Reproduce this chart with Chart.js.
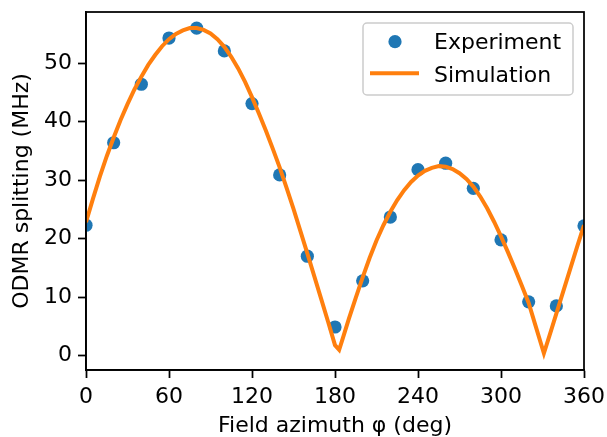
<!DOCTYPE html>
<html>
<head>
<meta charset="utf-8">
<script src="https://cdn.jsdelivr.net/npm/chart.js@4.4.1/dist/chart.umd.min.js"></script>
<style>
  html, body { margin: 0; padding: 0; background: #fff; }
  #wrap { width: 607px; height: 437px; }
</style>
</head>
<body>
<div id="wrap"><canvas id="chart" width="607" height="437"></canvas></div>
<script>
// Measured points, every 20 deg
const expAngles = [0, 20, 40, 60, 80, 100, 120, 140, 160, 180, 200, 220, 240, 260, 280, 300, 320, 340, 360];
const expSplitting = [22.3, 36.4, 46.4, 54.3, 56.0, 52.1, 43.1, 30.9, 17.0, 4.9, 12.8, 23.7, 31.8, 32.9, 28.6, 19.8, 9.2, 8.5, 22.2];

// Simulated curve
const simAngles = [0, 5, 10, 15, 20, 25, 30, 35, 40, 45, 50, 55, 60, 65, 70, 75, 80, 85, 90, 95,
  100, 105, 110, 115, 120, 125, 130, 135, 140, 145, 150, 155, 160, 165, 170, 175, 180, 183, 185, 190,
  195, 200, 205, 210, 215, 220, 225, 230, 235, 240, 245, 250, 255, 260, 265, 270, 275, 280, 285, 290,
  295, 300, 305, 310, 315, 320, 325, 331, 335, 340, 345, 350, 355, 360];
const simSplitting = [22.8, 26.8, 30.6, 34.1, 37.3, 40.3, 43.0, 45.5, 47.7, 49.7, 51.4, 52.9, 54.1, 55.0, 55.6, 56.0, 56.0, 55.7, 55.1, 54.1,
  52.8, 51.1, 49.1, 46.8, 44.2, 41.4, 38.5, 35.4, 32.2, 28.7, 25.1, 21.3, 17.5, 13.6, 9.7, 5.8, 1.8, 1.0, 2.5, 6.3,
  9.9, 13.4, 16.7, 19.7, 22.3, 24.6, 26.6, 28.3, 29.7, 30.8, 31.6, 32.1, 32.4, 32.3, 31.9, 31.2, 30.2, 28.9, 27.2, 25.2,
  22.9, 20.4, 17.7, 14.9, 12.0, 9.0, 5.1, 0.4, 3.4, 7.2, 11.0, 14.8, 18.6, 22.3];

const xTicks = [0, 60, 120, 180, 240, 300, 360];
const yTicks = [0, 10, 20, 30, 40, 50];

const blue = "#1f77b4";
const orange = "#ff7f0e";
const fontSize = 22;

Chart.defaults.font.family = "'DejaVu Sans', sans-serif";
Chart.defaults.font.size = fontSize;
Chart.defaults.color = "#000";

// matplotlib-style box round the axes, and the legend inside it
const frameAndLegend = {
  id: "frameAndLegend",
  afterDraw(chart) {
    const { ctx, chartArea: a } = chart;
    ctx.save();
    ctx.strokeStyle = "#000";
    ctx.lineWidth = 1.75;
    ctx.strokeRect(a.left, a.top, a.right - a.left, a.bottom - a.top);

    const w = 210, h = 72;
    const x0 = a.right - 11 - w, y0 = a.top + 11, r = 4;
    ctx.beginPath();
    ctx.moveTo(x0 + r, y0);
    ctx.arcTo(x0 + w, y0, x0 + w, y0 + h, r);
    ctx.arcTo(x0 + w, y0 + h, x0, y0 + h, r);
    ctx.arcTo(x0, y0 + h, x0, y0, r);
    ctx.arcTo(x0, y0, x0 + w, y0, r);
    ctx.closePath();
    ctx.fillStyle = "rgba(255,255,255,0.8)";
    ctx.fill();
    ctx.strokeStyle = "#cccccc";
    ctx.lineWidth = 1.5;
    ctx.stroke();

    ctx.fillStyle = blue;
    ctx.beginPath();
    ctx.arc(x0 + 32, y0 + 18.7, 6.6, 0, Math.PI * 2);
    ctx.fill();

    ctx.strokeStyle = orange;
    ctx.lineWidth = 4;
    ctx.beginPath();
    ctx.moveTo(x0 + 7, y0 + 50.3);
    ctx.lineTo(x0 + 56, y0 + 50.3);
    ctx.stroke();

    ctx.fillStyle = "#000";
    ctx.font = fontSize + "px 'DejaVu Sans', sans-serif";
    ctx.textBaseline = "alphabetic";
    ctx.textAlign = "left";
    ctx.fillText("Experiment", x0 + 71, y0 + 26.3);
    ctx.fillText("Simulation", x0 + 71, y0 + 58.7);
    ctx.restore();
  },
};

const axisGrid = {
  drawOnChartArea: false,
  drawTicks: true,
  tickLength: 8,
  tickWidth: 1.75,
  tickColor: "#000",
};

new Chart(document.getElementById("chart"), {
  type: "scatter",
  data: {
    datasets: [
      {
        label: "Simulation",
        data: simAngles.map((x, i) => ({ x, y: simSplitting[i] })),
        showLine: true,
        borderColor: orange,
        borderWidth: 4,
        pointRadius: 0,
        tension: 0,
        order: 0,
      },
      {
        label: "Experiment",
        data: expAngles.map((x, i) => ({ x, y: expSplitting[i] })),
        backgroundColor: blue,
        borderWidth: 0,
        pointRadius: 6.6,
        order: 1,
      },
    ],
  },
  options: {
    responsive: false,
    animation: false,
    devicePixelRatio: 1,
    layout: { padding: { top: 12, right: 23, left: 0, bottom: 0 } },
    plugins: {
      legend: { display: false },
      tooltip: { enabled: false },
    },
    scales: {
      x: {
        type: "linear",
        min: 0,
        max: 360,
        afterBuildTicks: (axis) => { axis.ticks = xTicks.map((value) => ({ value })); },
        afterFit: (axis) => {
          axis.height = 67;
          axis.paddingLeft = 0;
          axis.paddingRight = 0;
        },
        ticks: { padding: 6, maxRotation: 0 },
        grid: axisGrid,
        border: { display: true, color: "#000", width: 1.75 },
        title: {
          display: true,
          text: "Field azimuth \u03c6 (deg)",
          padding: { top: 0, bottom: -2 },
        },
      },
      y: {
        min: -2.45,
        max: 58.75,
        afterBuildTicks: (axis) => { axis.ticks = yTicks.map((value) => ({ value })); },
        afterFit: (axis) => {
          axis.width = 86;
          axis.paddingTop = 0;
          axis.paddingBottom = 0;
        },
        ticks: { padding: 6 },
        grid: axisGrid,
        border: { display: true, color: "#000", width: 1.75 },
        title: {
          display: true,
          text: "ODMR splitting (MHz)",
          padding: { top: 9, bottom: 0 },
        },
      },
    },
  },
  plugins: [frameAndLegend],
});
</script>
</body>
</html>
